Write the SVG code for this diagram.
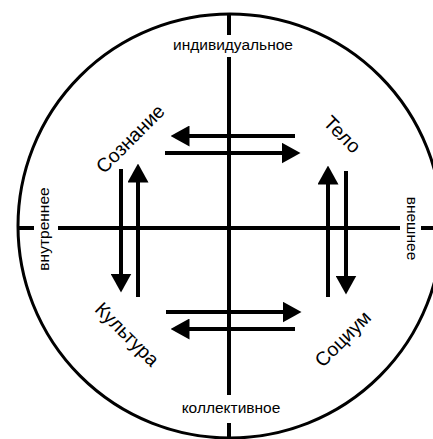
<svg xmlns="http://www.w3.org/2000/svg" width="433" height="439" viewBox="0 0 433 439">
<style>
.ax{stroke:#000;stroke-width:4;fill:none}
.ar{stroke:#000;stroke-width:4;fill:none;marker-end:url(#ah)}
.lbl{font-family:"Liberation Sans",Arial,sans-serif;font-size:15.5px;fill:#000;text-anchor:middle}
.q{font-family:"Liberation Sans",Arial,sans-serif;font-size:19.5px;fill:#000;text-anchor:middle}
</style>
<defs>
<marker id="ah" markerUnits="userSpaceOnUse" viewBox="0 0 19 21" markerWidth="19" markerHeight="21" refX="0.5" refY="10.5" orient="auto">
<path d="M0,0 L19,10.5 L0,21 Z" fill="#000"/>
</marker>
</defs>
<rect width="433" height="439" fill="#fff"/>
<g id="frame">
<circle cx="230" cy="226" r="212" fill="none" stroke="#000" stroke-width="3"/>
</g>
<g id="axes">
<line class="ax" x1="229" y1="14" x2="229" y2="35"/>
<line class="ax" x1="229" y1="57" x2="229" y2="395"/>
<line class="ax" x1="229" y1="423" x2="229" y2="439"/>
<line class="ax" x1="17" y1="228" x2="34" y2="228"/>
<line class="ax" x1="58" y1="228" x2="400" y2="228"/>
<line class="ax" x1="421" y1="228" x2="433" y2="228"/>
</g>
<g id="axis-labels">
<text id="individual" class="lbl" x="233" y="50">индивидуальное</text>
<text id="collective" class="lbl" x="231" y="413">коллективное</text>
<text id="inner" class="lbl" transform="translate(49,229) rotate(-90)">внутреннее</text>
<text id="outer" class="lbl" transform="translate(407,228.5) rotate(90)">внешнее</text>
</g>
<g id="node-soznanie"><text class="q" transform="translate(135,143.5) rotate(-45)">Сознание</text></g>
<g id="node-telo"><text class="q" transform="translate(337.5,139) rotate(45)">Тело</text></g>
<g id="node-kultura"><text class="q" transform="translate(122.5,339) rotate(45)">Культура</text></g>
<g id="node-socium"><text class="q" transform="translate(347.5,343.5) rotate(-45)">Социум</text></g>
<g id="connectors">
<line class="ar" x1="295" y1="136" x2="189" y2="136"/>
<line class="ar" x1="165" y1="153" x2="282" y2="153"/>
<line class="ar" x1="166" y1="312" x2="283" y2="312"/>
<line class="ar" x1="295" y1="329" x2="189" y2="329"/>
<line class="ar" x1="121" y1="169" x2="121" y2="274"/>
<line class="ar" x1="138" y1="297" x2="138" y2="182"/>
<line class="ar" x1="328" y1="297" x2="328" y2="184"/>
<line class="ar" x1="346" y1="171" x2="346" y2="276"/>
</g>
</svg>
